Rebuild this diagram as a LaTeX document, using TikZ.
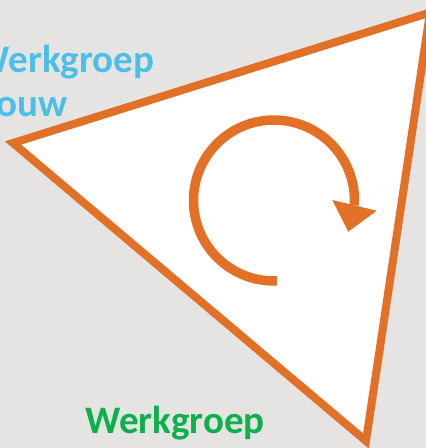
\documentclass[tikz,border=0pt]{standalone}
\usepackage{fontspec}
\setmainfont{Carlito}
\definecolor{bggray}{HTML}{E6E4E2}
\definecolor{triorange}{HTML}{E27026}
\definecolor{wblue}{HTML}{4BBFEA}
\definecolor{wgreen}{HTML}{0DB04B}
\begin{document}
\begin{tikzpicture}[x=1pt,y=1pt,
  wtext/.style={font=\bfseries\fontsize{39}{44}\selectfont, inner sep=0pt, anchor=base west},
  triline/.style={draw=triorange, line width=8pt, line join=miter, miter limit=20, fill=white},
  cycline/.style={draw=triorange, line width=9.5pt}]
\useasboundingbox (0,0) rectangle (426,448);
\fill[bggray] (0,0) rectangle (426,448);
\begin{scope}
\clip (0,0) rectangle (426,448);
\coordinate (tl) at (13,305);
\coordinate (tr) at (430,435.4);
\coordinate (tb) at (366,7);
\draw[triline] (tl) -- (tr) -- (tb) -- cycle;
\coordinate (cc) at (274,247.5);
\draw[cycline] ([shift={(-88:80.5pt)}]cc) arc[start angle=-88, end angle=-363.5, radius=80.5pt];
\coordinate (h1) at (332.3,248);
\coordinate (h2) at (376.7,237.3);
\coordinate (h3) at (348.3,216.3);
\fill[triorange] (h1) -- (h2) -- (h3) -- cycle;
\node[wtext, text=wblue] (wb1) at (-25.5,375) {Werkgroep};
\node[wtext, text=wblue] (wb2) at (-25.5,331) {Bouw};
\node[wtext, text=wgreen] (wg) at (85,14) {Werkgroep};
\end{scope}
\end{tikzpicture}
\end{document}
